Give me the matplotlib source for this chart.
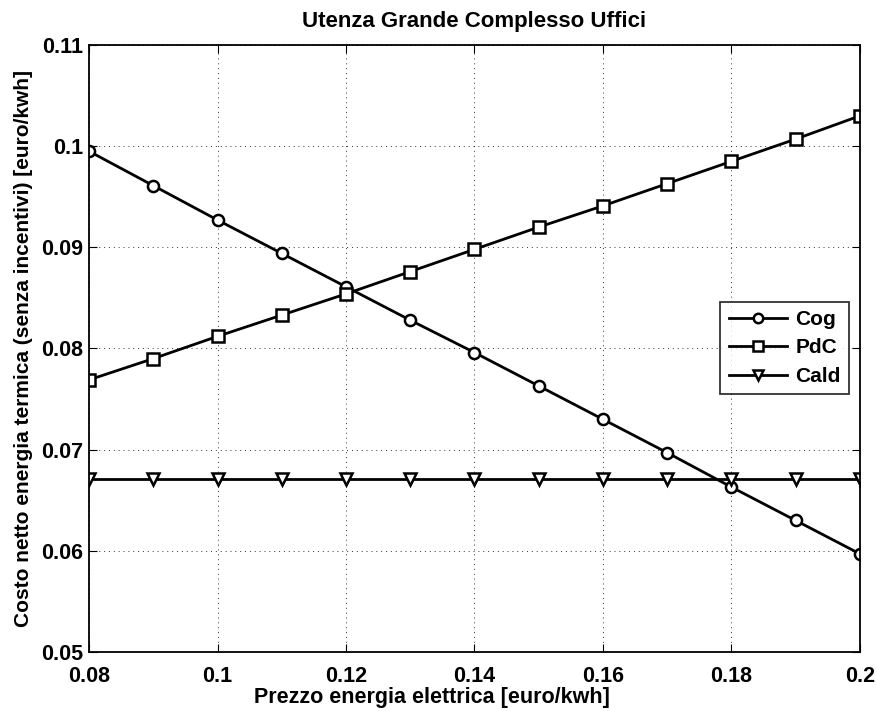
import numpy as np
import matplotlib
matplotlib.use("Agg")
import matplotlib.pyplot as plt

# dati
prezzo = [0.08, 0.09, 0.10, 0.11, 0.12, 0.13, 0.14, 0.15, 0.16, 0.17, 0.18, 0.19, 0.20]
cog = [0.0995, 0.0961, 0.0927, 0.0894, 0.0861, 0.0828, 0.0796, 0.0763, 0.0730, 0.0697, 0.0663, 0.0630, 0.0597]
pdc = [0.0769, 0.0790, 0.0812, 0.0833, 0.0854, 0.0876, 0.0898, 0.0920, 0.0941, 0.0963, 0.0985, 0.1007, 0.1030]
cald = [0.0671] * 13

xticks = [0.08, 0.1, 0.12, 0.14, 0.16, 0.18, 0.2]
xticklabels = ["0.08", "0.1", "0.12", "0.14", "0.16", "0.18", "0.2"]
yticks = [0.05, 0.06, 0.07, 0.08, 0.09, 0.1, 0.11]
yticklabels = ["0.05", "0.06", "0.07", "0.08", "0.09", "0.1", "0.11"]

plt.rcParams['font.family'] = ['Liberation Sans', 'DejaVu Sans']
plt.rcParams['font.weight'] = 'bold'

fig = plt.figure(figsize=(8.78, 7.11), dpi=100)
ax = fig.add_axes([0.1014, 0.083, 0.878, 0.8537])

stile = dict(color='black', linewidth=2, markersize=8, markerfacecolor='white', markeredgewidth=1.8)
ax.plot(prezzo, cog, marker='o', label='Cog', **stile)
ax.plot(prezzo, pdc, marker='s', label='PdC', **stile)
ax.plot(prezzo, cald, marker='v', label='Cald', **stile)

ax.set_xlim(0.08, 0.2)
ax.set_ylim(0.05, 0.11)
ax.set_xticks(xticks)
ax.set_xticklabels(xticklabels)
ax.set_yticks(yticks)
ax.set_yticklabels(yticklabels)
ax.tick_params(direction='in', top=True, right=True, labelsize=15.5, length=6)
ax.tick_params(axis='x', pad=10)
ax.tick_params(axis='y', pad=4)
for lab in ax.get_xticklabels() + ax.get_yticklabels():
    lab.set_fontweight('bold')
ax.grid(True, linestyle=(0, (1, 4)), color='black', linewidth=0.7, alpha=0.8)
for s in ax.spines.values():
    s.set_linewidth(1.3)

ax.set_xlabel('Prezzo energia elettrica [euro/kwh]', fontsize=15.5, fontweight='bold')
ax.xaxis.set_label_coords(0.445, -0.058)
ax.set_ylabel('Costo netto energia termica (senza incentivi) [euro/kwh]', fontsize=15, fontweight='bold', labelpad=6)
ax.set_title('Utenza Grande Complesso Uffici', fontsize=16, fontweight='bold', pad=13)

leg = ax.legend(loc='upper right', bbox_to_anchor=(0.9857, 0.577), fontsize=15, frameon=True,
                fancybox=False, edgecolor='black', handlelength=2.8, handletextpad=0.4,
                borderpad=0.4, labelspacing=0.45, markerscale=0.85, borderaxespad=0)
leg.get_frame().set_linewidth(1.3)
for t in leg.get_texts():
    t.set_fontweight('bold')

fig.savefig('out.png', dpi=100)
